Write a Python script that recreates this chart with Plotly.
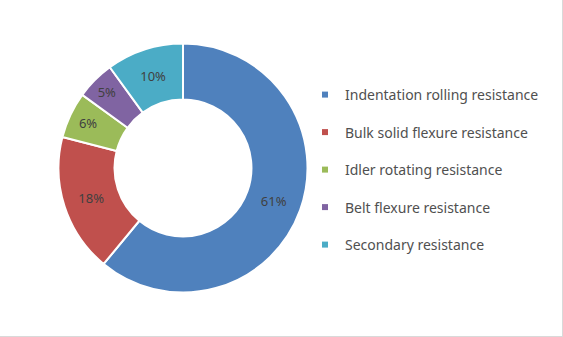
import plotly.graph_objects as go

labels = ["Indentation rolling resistance", "Bulk solid flexure resistance",
          "Idler rotating resistance", "Belt flexure resistance", "Secondary resistance"]
values = [61, 18, 6, 5, 10]
colors = ["#4F81BD", "#C0504D", "#9BBB59", "#8064A2", "#4BACC6"]

W, H = 563, 337
cx, cy, r = 183, 168, 124.5

fig = go.Figure()
fig.add_trace(go.Pie(
    labels=labels, values=values, sort=False, direction="clockwise", rotation=0,
    hole=0.55, marker=dict(colors=colors, line=dict(color="white", width=2)),
    textinfo="percent", texttemplate="%{percent:.0%}", textposition="inside",
    insidetextorientation="horizontal",
    textfont=dict(family="Noto Sans", size=13, color="#404040"),
    showlegend=False, hoverinfo="label+percent",
    domain=dict(x=[(cx - r) / W, (cx + r) / W], y=[(H - cy - r) / H, (H - cy + r) / H]),
))
for lab, col in zip(labels, colors):
    fig.add_trace(go.Scatter(
        x=[None], y=[None], mode="markers", name=lab, legendgroup=lab,
        marker=dict(symbol="square", size=6, color=col), showlegend=True,
    ))

fig.update_layout(
    width=W, height=H, margin=dict(l=0, r=0, t=0, b=0),
    paper_bgcolor="white", plot_bgcolor="white",
    xaxis=dict(visible=False), yaxis=dict(visible=False),
    legend=dict(x=305 / W, xanchor="left", y=1 - 79 / H, yanchor="top",
                font=dict(family="Noto Sans", size=14, color="#505050"),
                tracegroupgap=16.3, itemwidth=30, bgcolor="rgba(0,0,0,0)"),
    shapes=[
        dict(type="line", xref="paper", yref="paper", x0=1, y0=0, x1=1, y1=1,
             line=dict(color="#D9D9D9", width=2)),
        dict(type="line", xref="paper", yref="paper", x0=0, y0=0, x1=1, y1=0,
             line=dict(color="#D9D9D9", width=2)),
    ],
)
fig.write_html("out.html")
